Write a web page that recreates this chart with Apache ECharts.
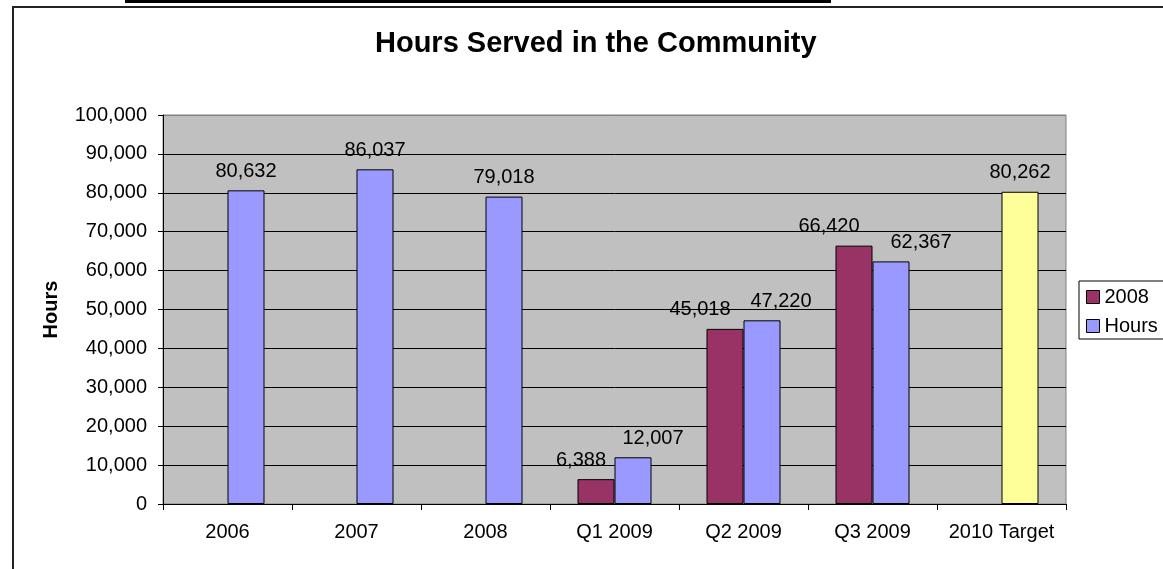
<!DOCTYPE html>
<html>
<head>
<meta charset="utf-8">
<script src="https://cdn.jsdelivr.net/npm/echarts@6/dist/echarts.min.js"></script>
<style>
html,body{margin:0;padding:0;background:#fff;}
#chart{width:1163px;height:569px;}
</style>
</head>
<body>
<div id="chart"></div>
<script>
var categories = ['2006', '2007', '2008', 'Q1 2009', 'Q2 2009', 'Q3 2009', '2010 Target'];
var series2008 = [null, null, null, 6388, 45018, 66420, null];
var seriesHours = [80632, 86037, 79018, 12007, 47220, 62367, 80262];
var yTicks = [0, 10000, 20000, 30000, 40000, 50000, 60000, 70000, 80000, 90000, 100000];

var FONT = '"Liberation Sans", Arial, sans-serif';
var labelDx2008 = [0, 0, 0, -15, -25, -25, 0];
var labelDxHours = [0, 0, 0, 20, 19, 30, 0];
var fmt = function (v) { return Number(v).toLocaleString('en-US'); };

var chart = echarts.init(document.getElementById('chart'), null, {renderer: 'canvas'});

var data2008 = series2008.map(function (v, i) {
  return {value: v, label: {offset: [labelDx2008[i], 0]}};
});
var dataHours = seriesHours.map(function (v, i) {
  var o = {value: v, label: {offset: [labelDxHours[i], 0]}};
  if (i === categories.length - 1) o.itemStyle = {color: '#FFFF99'};
  return o;
});

var splitColors = yTicks.map(function (t, i) { return i === yTicks.length - 1 ? '#808080' : '#000000'; });

chart.setOption({
  animation: false,
  backgroundColor: '#ffffff',
  textStyle: {fontFamily: FONT},
  title: {
    text: 'Hours Served in the Community',
    left: 375,
    top: 29,
    padding: 0,
    textStyle: {fontFamily: FONT, fontSize: 29, fontWeight: 'bold', color: '#000'}
  },
  graphic: [
    {type: 'rect', shape: {x: 13, y: 7, width: 1170, height: 580}, style: {fill: null, stroke: '#222', lineWidth: 2}, silent: true, z: -1},
    {type: 'rect', shape: {x: 125, y: 0, width: 706, height: 3}, style: {fill: '#000'}, silent: true}
  ],
  legend: {
    data: ['2008', 'Hours'],
    orient: 'vertical',
    left: 1079,
    top: 281,
    padding: [6, 12, 3, 7],
    itemGap: 9,
    itemWidth: 13,
    itemHeight: 13,
    icon: 'rect',
    backgroundColor: '#fff',
    borderColor: '#000',
    borderWidth: 1,
    itemStyle: {borderColor: '#000', borderWidth: 1},
    textStyle: {fontFamily: FONT, fontSize: 20, color: '#000'}
  },
  grid: {
    left: 163, right: 97, top: 115, bottom: 65,
    show: true,
    backgroundColor: '#C0C0C0',
    borderColor: '#808080',
    borderWidth: 1
  },
  xAxis: {
    type: 'category',
    data: categories,
    axisLine: {lineStyle: {color: '#000', width: 1}},
    axisTick: {show: true, length: 6, lineStyle: {color: '#000'}},
    axisLabel: {fontFamily: FONT, fontSize: 20, color: '#000', margin: 18, interval: 0}
  },
  yAxis: {
    type: 'value',
    min: 0, max: 100000, interval: 10000,
    name: 'Hours',
    nameLocation: 'middle',
    nameRotate: 90,
    nameGap: 102,
    nameTextStyle: {fontFamily: FONT, fontSize: 20, fontWeight: 'bold', color: '#000', padding: [0, 0, 0, 0]},
    axisLine: {show: true, lineStyle: {color: '#000', width: 1}},
    axisTick: {show: true, length: 5, lineStyle: {color: '#000'}},
    axisLabel: {fontFamily: FONT, fontSize: 20, color: '#000', margin: 16, formatter: fmt},
    splitLine: {show: true, lineStyle: {color: splitColors, width: 1}}
  },
  series: [
    {
      name: '2008', type: 'bar', data: data2008,
      barWidth: 37, barGap: '0%',
      itemStyle: {color: '#993366', borderColor: '#000', borderWidth: 1},
      label: {show: true, position: 'top', distance: 9, fontFamily: FONT, fontSize: 20, color: '#000',
        formatter: function (p) { return fmt(p.value); }}
    },
    {
      name: 'Hours', type: 'bar', data: dataHours,
      barWidth: 37, barGap: '0%',
      itemStyle: {color: '#9999FF', borderColor: '#000', borderWidth: 1},
      label: {show: true, position: 'top', distance: 9, fontFamily: FONT, fontSize: 20, color: '#000',
        formatter: function (p) { return fmt(p.value); }}
    }
  ]
});
</script>
</body>
</html>
